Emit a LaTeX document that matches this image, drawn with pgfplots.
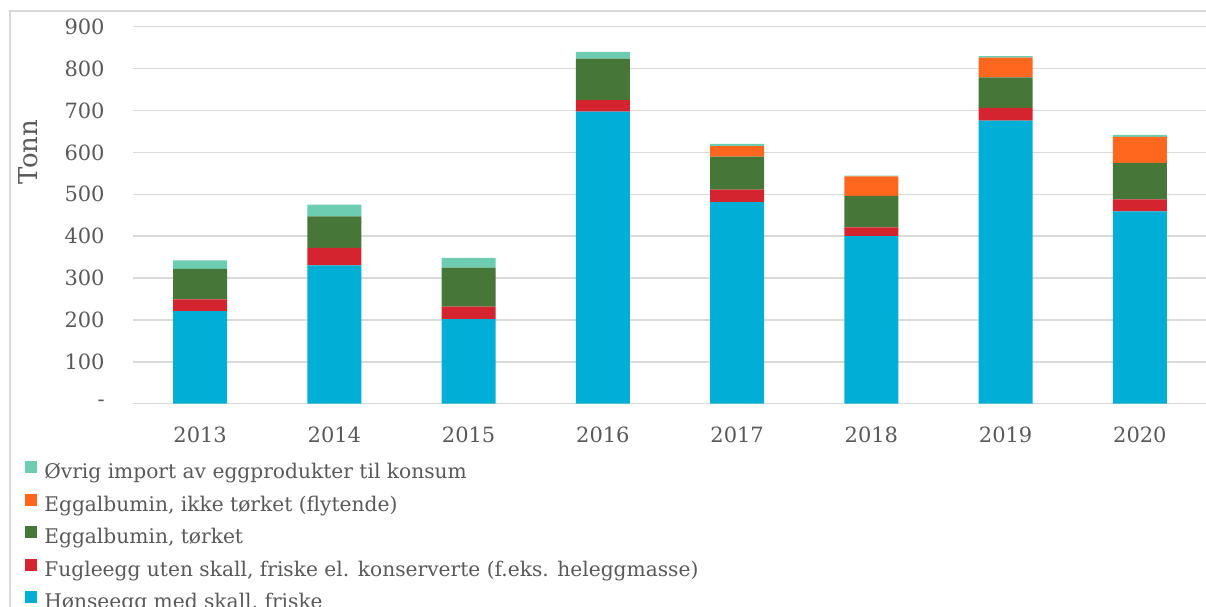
\documentclass[border=0pt]{standalone}
\usepackage{fontspec}
\setmainfont{DejaVu Serif}
\usepackage{pgfplots}
\pgfplotsset{compat=1.18}
\usepackage{pgfplotstable}
\definecolor{cBlue}{HTML}{00AED6}
\definecolor{cRed}{HTML}{D3242F}
\definecolor{cGreen}{HTML}{477639}
\definecolor{cOrange}{HTML}{FF671F}
\definecolor{cTeal}{HTML}{6DCDB1}
\definecolor{cText}{HTML}{595959}
\definecolor{cGrid}{HTML}{D9D9D9}
\pgfplotstableread{
x blue red green orange teal
0 221 28 73 0 20
1 330 42 75 0 28
2 202 30 93 0 23
3 697 28 99 0 16
4 481 30 79 25 5
5 400 21 75 47 1.5
6 676 30 73 47 4
7 459 29 87 62 5
}\datatable
\begin{document}
\begin{tikzpicture}
\useasboundingbox (0,0) rectangle (603bp,303.5bp);
\clip (0,0) rectangle (603bp,303.5bp);
\draw[cGrid, line width=0.75bp] (5bp,0) -- (5bp,298bp) -- (603bp,298bp);
\begin{axis}[
  at={(66.5bp,101.65bp)}, anchor=south west,
  scale only axis, width=537bp, height=188.5bp,
  ybar stacked, bar width=27bp,
  xmin=-0.5, xmax=7.5, ymin=0, ymax=900,
  xtick={0,1,2,3,4,5,6,7},
  xticklabels={2013,2014,2015,2016,2017,2018,2019,2020},
  ytick={0,100,200,300,400,500,600,700,800,900},
  yticklabels={-,100,200,300,400,500,600,700,800,900},
  ymajorgrids, grid style={cGrid, line width=0.75bp},
  axis line style={draw=none}, major tick length=0pt,
  tick label style={font=\fontsize{10.5bp}{12.6bp}\selectfont, text=cText, inner sep=0pt},
  xticklabel style={anchor=center, yshift=-15.5bp},
  yticklabel style={anchor=east, xshift=-14bp},
  ylabel={Tonn},
  ylabel style={at={(axis description cs:-0.0971,0.6676)}, anchor=center, inner sep=0pt,
    font=\fontsize{13bp}{15bp}\selectfont, text=cText},
  reverse legend,
  legend cell align=left,
  legend image code/.code={\fill[#1] (0bp,0bp) rectangle (6bp,6bp);},
  legend style={at={(axis description cs:-0.1006,-0.1512)}, anchor=north west,
    draw=none, fill=none, inner sep=0pt, row sep=5bp, column sep=3.5bp,
    font=\fontsize{10.1bp}{12bp}\selectfont, text=cText,
    nodes={inner sep=0pt, text height=8bp, text depth=2.5bp}},
]
\addplot[fill=cBlue, draw=none] table[x=x, y=blue] {\datatable};
\addlegendentry{Hønseegg med skall, friske}
\addplot[fill=cRed, draw=none] table[x=x, y=red] {\datatable};
\addlegendentry{Fugleegg uten skall, friske el. konserverte (f.eks. heleggmasse)}
\addplot[fill=cGreen, draw=none] table[x=x, y=green] {\datatable};
\addlegendentry{Eggalbumin, tørket}
\addplot[fill=cOrange, draw=none] table[x=x, y=orange] {\datatable};
\addlegendentry{Eggalbumin, ikke tørket (flytende)}
\addplot[fill=cTeal, draw=none] table[x=x, y=teal] {\datatable};
\addlegendentry{Øvrig import av eggprodukter til konsum}
\end{axis}
\end{tikzpicture}
\end{document}
